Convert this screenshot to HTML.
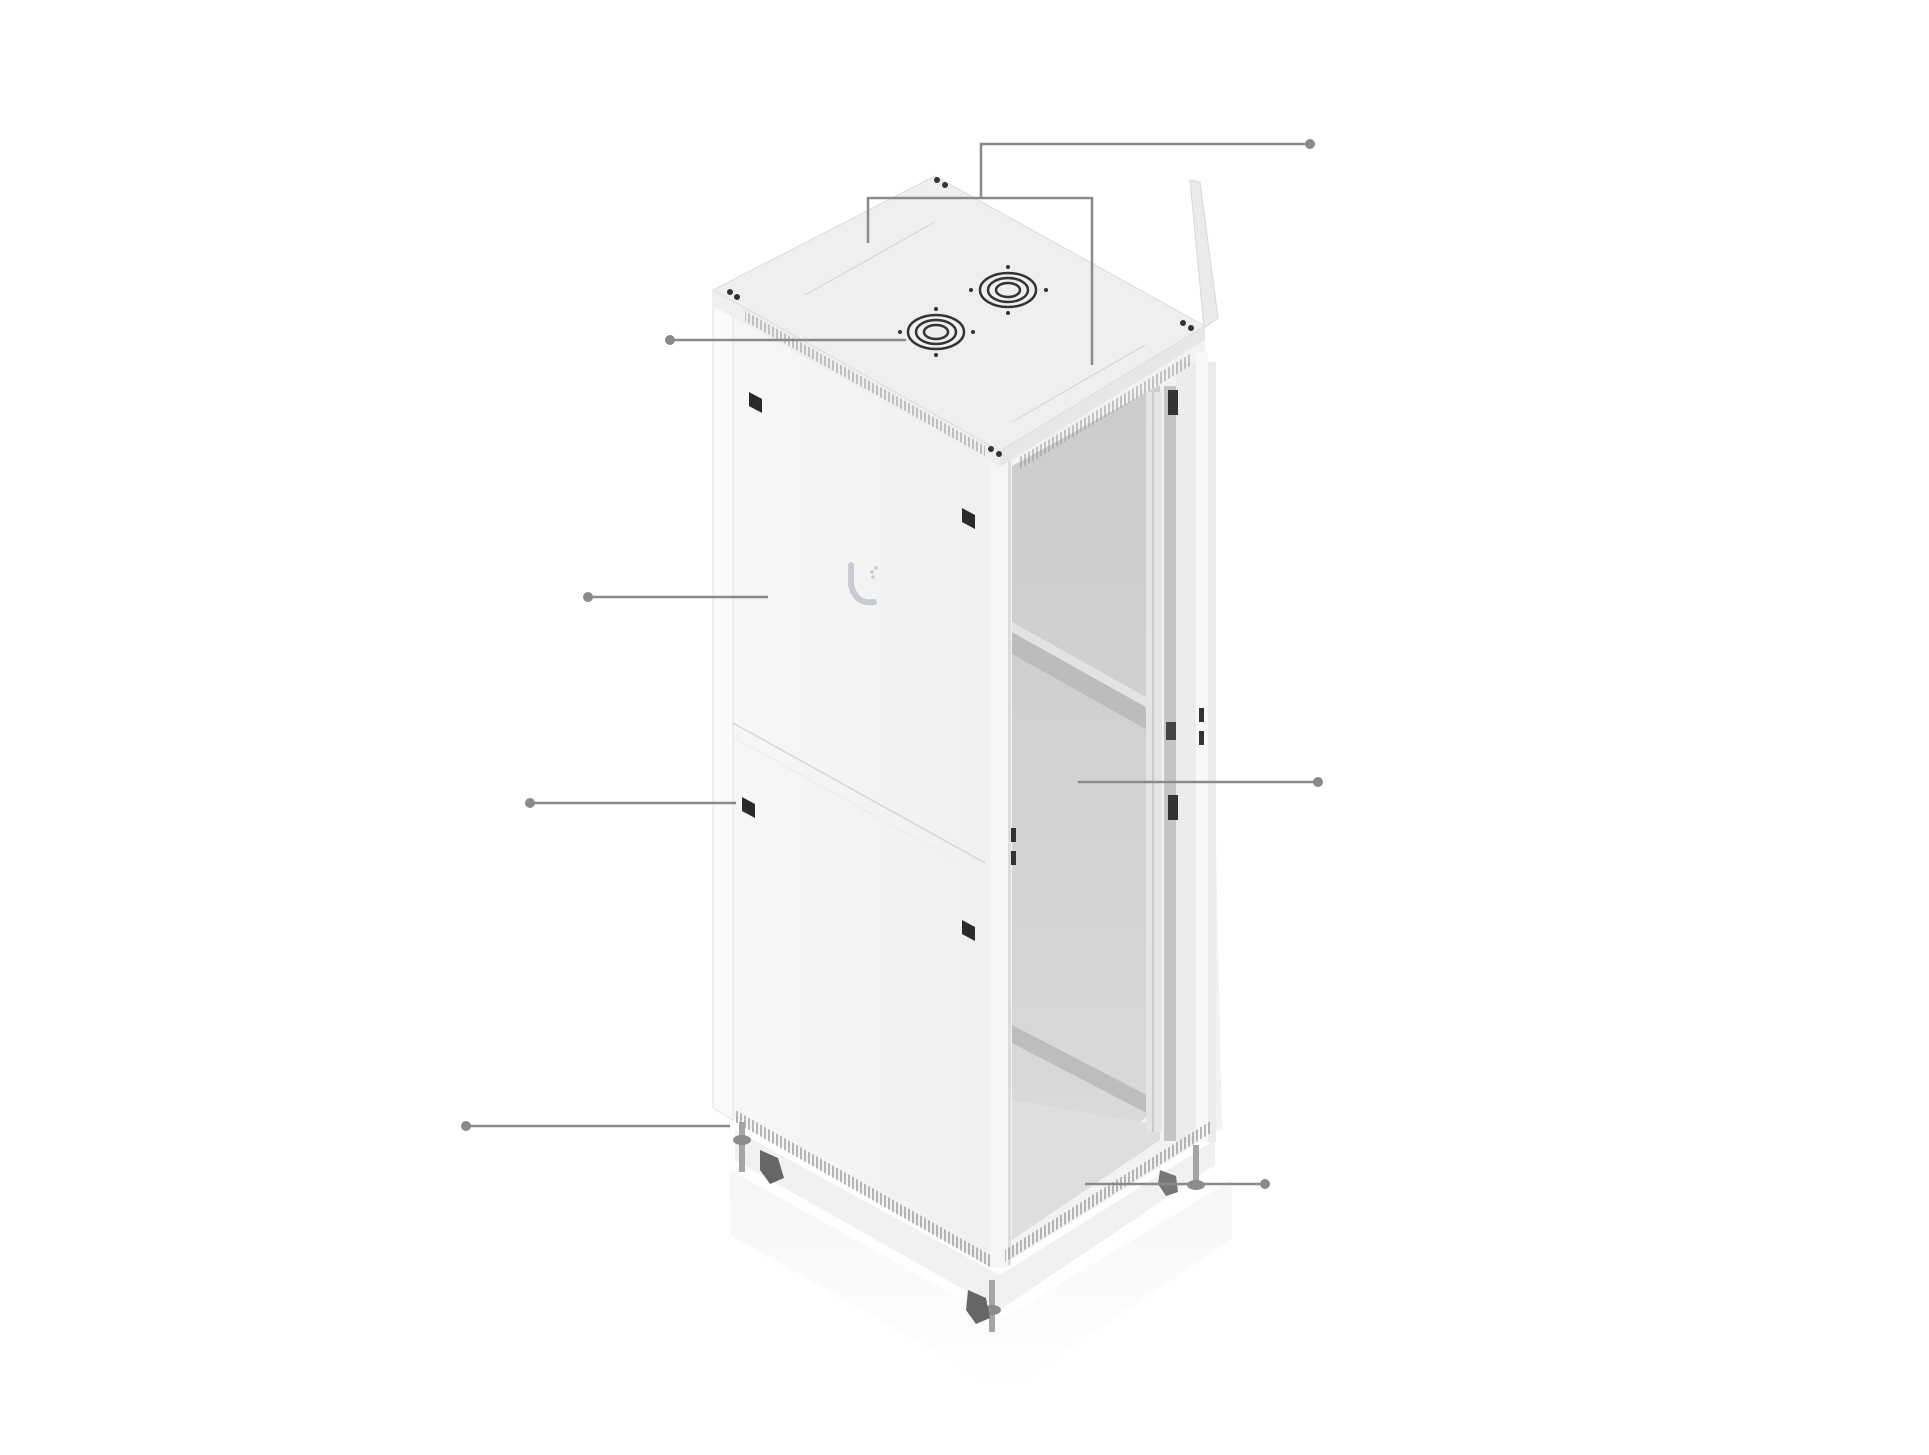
<!DOCTYPE html>
<html><head><meta charset="utf-8"><style>
html,body{margin:0;padding:0;background:#fff;}
svg{display:block}
</style></head><body>
<svg width="1929" height="1455" viewBox="0 0 1929 1455" xmlns="http://www.w3.org/2000/svg">
<defs>
<linearGradient id="front" x1="0" y1="0" x2="1" y2="0"><stop offset="0" stop-color="#f7f7f7"/><stop offset="1" stop-color="#f0f0f0"/></linearGradient>
<linearGradient id="inner" x1="0" y1="0" x2="0" y2="1"><stop offset="0" stop-color="#cccccc"/><stop offset="0.5" stop-color="#d2d2d2"/><stop offset="1" stop-color="#dcdcdc"/></linearGradient>
<linearGradient id="floor" x1="0" y1="0" x2="0" y2="1"><stop offset="0" stop-color="#f3f3f3"/><stop offset="1" stop-color="#ffffff"/></linearGradient>
<pattern id="vent" width="4" height="10" patternUnits="userSpaceOnUse"><rect width="2" height="10" fill="#9a9a9a"/></pattern>
</defs>
<polygon points="730,1170 1000,1320 1232,1180 1232,1240 1005,1390 730,1235" fill="url(#floor)" opacity="0.8"/>
<polygon points="735,1130 1000,1275 1215,1140 1215,1165 1000,1310 735,1160" fill="#f1f1f1"/>
<!-- right open face outer -->
<polygon points="1000,451 1205,326 1222,1128 1000,1267" fill="#f2f2f2"/>
<polygon points="1012,466 1160,385 1160,1105 1012,1232" fill="url(#inner)"/>
<polygon points="1012,632 1160,715 1160,737 1012,654" fill="#bcbcbc"/>
<polygon points="1012,622 1160,705 1160,715 1012,632" fill="#e3e3e3"/>
<polygon points="1012,1025 1160,1102 1160,1120 1012,1043" fill="#bdbdbd"/>
<polygon points="1012,1100 1160,1125 1160,1140 1012,1240" fill="#dedede"/>
<rect x="1146" y="392" width="16" height="740" fill="#e4e4e4"/>
<rect x="1150" y="392" width="4" height="740" fill="url(#vent)" opacity="0.35"/>
<rect x="1164" y="386" width="12" height="755" fill="#c4c4c4"/>
<rect x="1176" y="362" width="40" height="780" fill="#ececec"/>
<rect x="1196" y="352" width="12" height="790" fill="#f8f8f8"/>
<rect x="1168" y="390" width="10" height="25" fill="#333"/>
<rect x="1168" y="795" width="10" height="25" fill="#333"/>
<rect x="1166" y="722" width="10" height="18" fill="#444"/>
<rect x="1199" y="708" width="5" height="14" fill="#333"/><rect x="1199" y="731" width="5" height="14" fill="#333"/>
<polygon points="1190,180 1200,182 1218,318 1204,328" fill="#eaeaea" stroke="#d8d8d8"/>
<rect x="990" y="451" width="20" height="816" fill="#f5f5f5"/>
<rect x="1008" y="460" width="3" height="805" fill="#dcdcdc"/>
<rect x="1011" y="828" width="5" height="14" fill="#333"/><rect x="1011" y="851" width="5" height="14" fill="#333"/>
<!-- front face -->
<polygon points="713,290 990,451 990,1267 713,1108" fill="url(#front)"/>
<polygon points="713,290 733,302 733,1120 713,1108" fill="#fafafa" stroke="#e2e2e2" stroke-width="1"/>
<line x1="733" y1="723" x2="985" y2="863" stroke="#d6d6d6" stroke-width="1.5"/>
<line x1="733" y1="737" x2="985" y2="877" stroke="#eaeaea" stroke-width="1"/>
<polygon points="749,392 762,399 762,413 749,406" fill="#2a2a2a"/>
<polygon points="962,508 975,515 975,529 962,522" fill="#2a2a2a"/>
<polygon points="742,797 755,804 755,818 742,811" fill="#2a2a2a"/>
<polygon points="962,920 975,927 975,941 962,934" fill="#2a2a2a"/>
<path d="M851,565 L851,585 Q856,605 874,602" fill="none" stroke="#c8cbd2" stroke-width="6" stroke-linecap="round"/>
<circle cx="872" cy="572" r="1.8" fill="#c8cbd2"/><circle cx="876" cy="568" r="1.8" fill="#c8cbd2"/><circle cx="873" cy="577" r="1.8" fill="#c8cbd2"/>
<polygon points="735,1110 990,1255 990,1267 735,1122" fill="url(#vent)" opacity="0.7"/>
<polygon points="1005,1250 1212,1120 1212,1132 1005,1262" fill="url(#vent)" opacity="0.7"/>
<!-- top thickness -->
<polygon points="713,290 1000,451 1000,467 713,306" fill="#efefef"/>
<polygon points="1000,451 1205,326 1205,340 1000,467" fill="#e7e7e7"/>
<polygon points="745,311 985,446 985,456 745,321" fill="url(#vent)" opacity="0.55"/>
<polygon points="1020,457 1190,354 1190,366 1020,469" fill="url(#vent)" opacity="0.55"/>
<polygon points="713,290 935,176 1205,326 1000,451" fill="#efefef" stroke="#dddddd"/>
<line x1="805" y1="295" x2="935" y2="222" stroke="#d2d2d2"/>
<line x1="1012" y1="422" x2="1145" y2="345" stroke="#d2d2d2"/>
<g fill="none" stroke="#333" stroke-width="2.5">
<ellipse cx="936" cy="332" rx="28" ry="17"/><ellipse cx="936" cy="332" rx="20" ry="12"/><ellipse cx="936" cy="332" rx="12" ry="7"/>
<ellipse cx="1008" cy="290" rx="28" ry="17"/><ellipse cx="1008" cy="290" rx="20" ry="12"/><ellipse cx="1008" cy="290" rx="12" ry="7"/>
</g>
<g fill="#333"><circle cx="936" cy="309" r="2"/><circle cx="936" cy="355" r="2"/><circle cx="900" cy="332" r="2"/><circle cx="973" cy="332" r="2"/>
<circle cx="1008" cy="267" r="2"/><circle cx="1008" cy="313" r="2"/><circle cx="971" cy="290" r="2"/><circle cx="1046" cy="290" r="2"/>
<circle cx="730" cy="292" r="3"/><circle cx="737" cy="297" r="3"/><circle cx="937" cy="180" r="3"/><circle cx="945" cy="185" r="3"/>
<circle cx="1183" cy="323" r="3"/><circle cx="1191" cy="328" r="3"/><circle cx="991" cy="449" r="3"/><circle cx="999" cy="454" r="3"/></g>
<!-- legs -->
<g>
<rect x="739" y="1122" width="6" height="50" fill="#a5a5a5"/><ellipse cx="742" cy="1140" rx="9" ry="5" fill="#8c8c8c"/>
<path d="M760,1150 l18,8 l6,20 l-14,6 l-10,-14z" fill="#666"/>
<rect x="989" y="1280" width="6" height="52" fill="#a5a5a5"/><ellipse cx="992" cy="1310" rx="9" ry="5" fill="#8c8c8c"/>
<path d="M968,1290 l18,8 l4,20 l-14,6 l-10,-14z" fill="#666"/>
<rect x="1193" y="1145" width="6" height="42" fill="#a5a5a5"/><ellipse cx="1196" cy="1185" rx="9" ry="5" fill="#8c8c8c"/>
<path d="M1160,1170 l16,6 l2,16 l-12,4 l-8,-12z" fill="#777"/>
</g>
<g stroke="#8a8a8a" stroke-width="2.5" fill="none">
<polyline points="981,198 981,144 1310,144"/>
<polyline points="868,243 868,198 1092,198 1092,365"/>
<line x1="670" y1="340" x2="906" y2="340"/>
<line x1="588" y1="597" x2="768" y2="597"/>
<line x1="530" y1="803" x2="736" y2="803"/>
<line x1="466" y1="1126" x2="730" y2="1126"/>
<line x1="1078" y1="782" x2="1318" y2="782"/>
<line x1="1085" y1="1184" x2="1265" y2="1184"/>
</g>
<g fill="#8a8a8a">
<circle cx="1310" cy="144" r="5"/><circle cx="670" cy="340" r="5"/><circle cx="588" cy="597" r="5"/><circle cx="530" cy="803" r="5"/>
<circle cx="466" cy="1126" r="5"/><circle cx="1318" cy="782" r="5"/><circle cx="1265" cy="1184" r="5"/>
</g>
</svg>
</body></html>
